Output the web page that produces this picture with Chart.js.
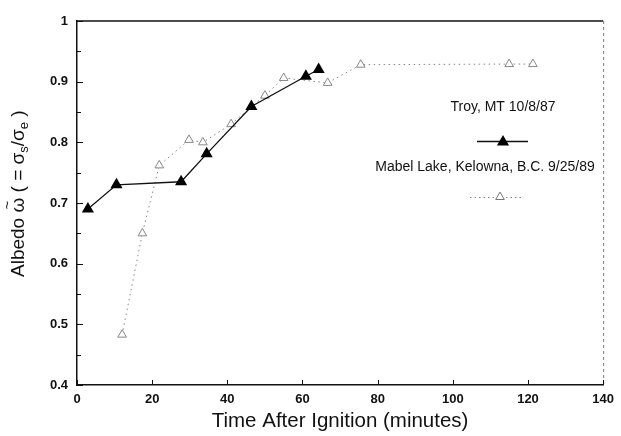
<!DOCTYPE html>
<html>
<head>
<meta charset="utf-8">
<script src="https://cdn.jsdelivr.net/npm/chart.js@4/dist/chart.umd.min.js"></script>
<style>
  html, body { margin: 0; padding: 0; background: #ffffff; }
  #wrap { width: 621px; height: 436px; }
</style>
</head>
<body>
<div id="wrap"><canvas id="c" width="621" height="436"></canvas></div>
<script>
// ---- Data ----
const troyLabel = "Troy, MT 10/8/87";
const troyTime = [2.9, 10.5, 27.7, 34.5, 46.4, 60.9, 64.3];
const troyAlbedo = [0.690, 0.730, 0.735, 0.781, 0.859, 0.909, 0.920];

const mabelLabel = "Mabel Lake, Kelowna, B.C. 9/25/89";
const mabelTime = [12, 17.4, 21.9, 29.8, 33.5, 41, 50, 55, 66.7, 75.5, 115, 121.3];
const mabelAlbedo = [0.483, 0.650, 0.762, 0.804, 0.800, 0.830, 0.877, 0.906, 0.898, 0.928, 0.929, 0.929];

const xTicks = [0, 20, 40, 60, 80, 100, 120, 140];
const yTicks = [0.4, 0.5, 0.6, 0.7, 0.8, 0.9, 1];
const xTitle = "Time After Ignition (minutes)";
// [text, style] style: 'n' normal, 's' subscript, 't' with tilde above
const yTitleParts = [["Albedo ", 'n'], ["\u03C9", 't'], [" ( = \u03C3", 'n'], ["s", 's'], ["/\u03C3", 'n'], ["e", 's'], [" )", 'n']];

const FONT = "'Liberation Sans', Arial, Helvetica, sans-serif";

function toXY(xs, ys) { return xs.map((x, i) => ({ x: x, y: ys[i] })); }

function drawTri(ctx, x, y, r, fill, stroke) {
  ctx.beginPath();
  ctx.moveTo(x, y - r);
  ctx.lineTo(x + r * Math.sin(2 * Math.PI / 3), y + r / 2);
  ctx.lineTo(x - r * Math.sin(2 * Math.PI / 3), y + r / 2);
  ctx.closePath();
  if (fill) { ctx.fillStyle = fill; ctx.fill(); }
  if (stroke) { ctx.strokeStyle = stroke; ctx.lineWidth = 1; ctx.stroke(); }
}

const decor = {
  id: 'decor',
  afterDraw(chart) {
    const ctx = chart.ctx, a = chart.chartArea;
    const xs = chart.scales.x, ys = chart.scales.y;
    ctx.save();
    // top border
    ctx.strokeStyle = '#111'; ctx.lineWidth = 1.5;
    ctx.beginPath(); ctx.moveTo(a.left, a.top); ctx.lineTo(a.right, a.top); ctx.stroke();
    // right border (faint, dashed)
    ctx.strokeStyle = '#777'; ctx.lineWidth = 1; ctx.setLineDash([3, 3]);
    ctx.beginPath(); ctx.moveTo(a.right + 0.5, a.top); ctx.lineTo(a.right + 0.5, a.bottom); ctx.stroke();
    ctx.setLineDash([]);
    // inward tick marks
    ctx.strokeStyle = '#111'; ctx.lineWidth = 1;
    ctx.beginPath();
    yTicks.forEach((v, i) => {
      const py = Math.round(ys.getPixelForValue(v)) + 0.5;
      ctx.moveTo(a.left, py); ctx.lineTo(a.left + 6, py);
      if (i < yTicks.length - 1) {
        const pm = Math.round(ys.getPixelForValue(v + 0.05)) + 0.5;
        ctx.moveTo(a.left, pm); ctx.lineTo(a.left + 4, pm);
      }
    });
    xTicks.forEach((v) => {
      const px = Math.round(xs.getPixelForValue(v)) + 0.5;
      ctx.moveTo(px, a.bottom); ctx.lineTo(px, a.bottom - 5);
    });
    ctx.stroke();

    // y axis title with tilde and subscripts (rotated)
    ctx.save();
    ctx.translate(19, 277);
    ctx.rotate(-Math.PI / 2);
    ctx.fillStyle = '#111';
    ctx.textAlign = 'left';
    ctx.textBaseline = 'middle';
    let cx = 0;
    yTitleParts.forEach(([t, st]) => {
      ctx.font = (st === 's' ? '13px ' : '19px ') + FONT;
      ctx.fillText(t, cx, st === 's' ? 5 : 0);
      const w = ctx.measureText(t).width;
      if (st === 't') {
        ctx.font = '15px ' + FONT;
        ctx.textAlign = 'center';
        ctx.fillText('~', cx + w / 2, -11);
        ctx.textAlign = 'left';
      }
      cx += w;
    });
    ctx.restore();

    // legend (inside plot area)
    ctx.fillStyle = '#111';
    ctx.font = '14px ' + FONT;
    ctx.textAlign = 'center';
    ctx.textBaseline = 'middle';
    ctx.fillText(troyLabel, 503, 107);
    ctx.fillText(mabelLabel, 485, 167);
    // Troy sample
    ctx.strokeStyle = '#111'; ctx.lineWidth = 1.3;
    ctx.beginPath(); ctx.moveTo(477, 141.5); ctx.lineTo(528, 141.5); ctx.stroke();
    drawTri(ctx, 503, 142, 7, '#000', null);
    // Mabel sample
    ctx.strokeStyle = '#888'; ctx.lineWidth = 1; ctx.setLineDash([1.5, 3]);
    ctx.beginPath(); ctx.moveTo(470, 197.5); ctx.lineTo(523, 197.5); ctx.stroke();
    ctx.setLineDash([]);
    drawTri(ctx, 500, 197, 5, '#fff', '#777');
    ctx.restore();
  }
};

new Chart(document.getElementById('c'), {
  type: 'scatter',
  data: {
    datasets: [
      {
        label: mabelLabel,
        data: toXY(mabelTime, mabelAlbedo),
        showLine: true,
        borderColor: '#888',
        borderWidth: 1,
        borderDash: [1.5, 3.5],
        pointStyle: 'triangle',
        pointRadius: 5,
        pointBackgroundColor: '#ffffff',
        pointBorderColor: '#888',
        pointBorderWidth: 1,
        order: 2
      },
      {
        label: troyLabel,
        data: toXY(troyTime, troyAlbedo),
        showLine: true,
        borderColor: '#111',
        borderWidth: 1.3,
        pointStyle: 'triangle',
        pointRadius: 7,
        pointBackgroundColor: '#000',
        pointBorderColor: '#000',
        pointBorderWidth: 0,
        order: 1
      }
    ]
  },
  options: {
    responsive: false,
    animation: false,
    devicePixelRatio: 1,
    layout: { padding: { top: 21, right: 13, left: 0, bottom: 0 } },
    plugins: {
      legend: { display: false },
      tooltip: { enabled: false }
    },
    scales: {
      x: {
        type: 'linear',
        min: 0, max: 140,
        afterFit(s) { s.height = 51; },
        afterBuildTicks(s) { s.ticks = xTicks.map(v => ({ value: v })); },
        ticks: {
          color: '#111',
          font: { family: FONT, size: 13, weight: 'bold' },
          padding: 7,
          maxRotation: 0,
          autoSkip: false,
          callback: v => String(v)
        },
        grid: { display: true, drawOnChartArea: false, drawTicks: false },
        border: { display: true, color: '#111', width: 1.5 },
        title: {
          display: true,
          text: xTitle,
          color: '#111',
          font: { family: FONT, size: 20.5 },
          padding: { top: 0, bottom: 2 }
        }
      },
      y: {
        type: 'linear',
        min: 0.4, max: 1,
        afterFit(s) { s.width = 77; },
        afterBuildTicks(s) { s.ticks = yTicks.map(v => ({ value: v })); },
        ticks: {
          color: '#111',
          font: { family: FONT, size: 13, weight: 'bold' },
          padding: 9,
          autoSkip: false,
          callback: v => (Math.abs(v - 1) < 1e-9 ? '1' : v.toFixed(1))
        },
        grid: { display: true, drawOnChartArea: false, drawTicks: false },
        border: { display: true, color: '#111', width: 1.5 }
      }
    }
  },
  plugins: [decor]
});
</script>
</body>
</html>
